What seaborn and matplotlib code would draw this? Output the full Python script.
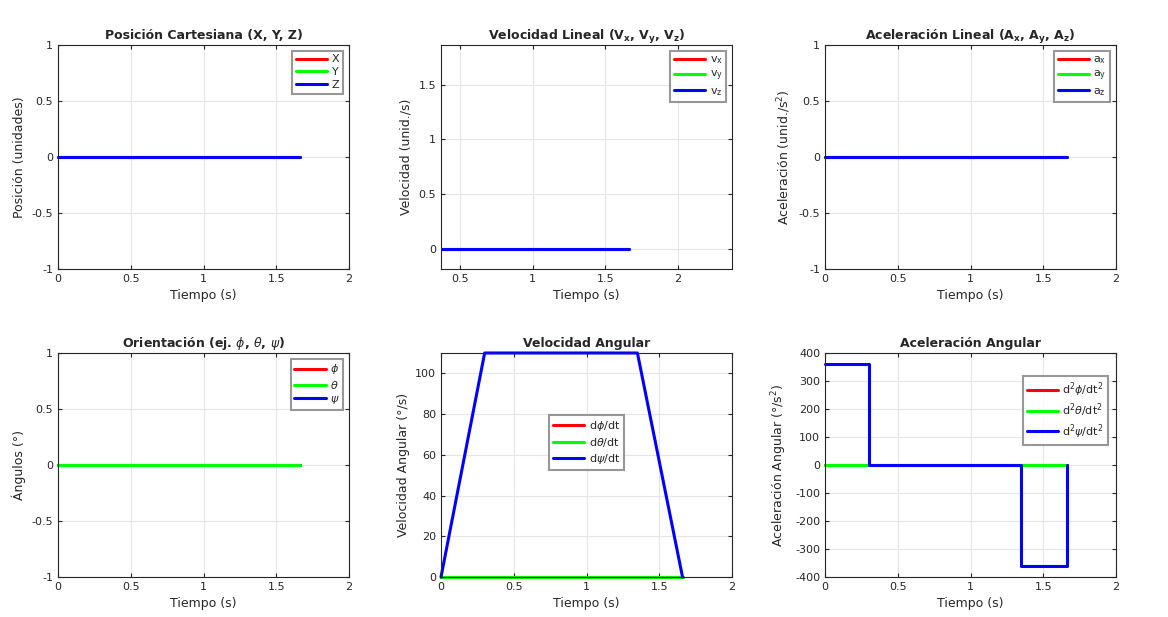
import matplotlib
matplotlib.use('Agg')
import matplotlib.pyplot as plt
from matplotlib.ticker import FormatStrFormatter
import seaborn as sns
import numpy as np

sns.set_style('whitegrid')
plt.rcParams['font.family'] = ['DejaVu Sans']
plt.rcParams['mathtext.fontset'] = 'dejavusans'

# data
t_end = 1.66
t_flat = [0, t_end]
zero = [0, 0]
t_vel = [0, 0.3, 1.35, 1.66]
w_psi = [0, 110, 110, 0]
t_acc = [0, 0.3, 0.3, 1.35, 1.35, 1.66, 1.66]
a_psi = [360, 360, 0, 0, -360, -360, 0]

red, green, blue = '#ff0000', '#00ff00', '#0000ff'

fig = plt.figure(figsize=(11.68, 6.17), dpi=100)
W, H = 1168, 617
lefts = [58, 441, 825]
tops = [45, 353]
aw, ah = 291, 224
axes = [[fig.add_axes([l / W, 1 - (t + ah) / H, aw / W, ah / H]) for l in lefts] for t in tops]

def style(ax, title, ylabel):
    ax.set_title(title, fontsize=9, fontweight='bold', pad=4)
    ax.set_ylabel(ylabel, fontsize=9)
    ax.set_xlabel('Tiempo (s)', fontsize=9)
    ax.tick_params(labelsize=8, length=3, direction='in', bottom=True, left=True, top=True, right=True)
    ax.xaxis.set_major_formatter(FormatStrFormatter('%g'))
    ax.yaxis.set_major_formatter(FormatStrFormatter('%g'))
    ax.grid(True, color='#e6e6e6', lw=0.8)
    for s in ax.spines.values():
        s.set_color('#262626')
        s.set_linewidth(0.8)
    for ln in ax.lines:
        ln.set_clip_on(False)

def legend(ax, loc, handles=None, labels=None, **kw):
    if handles is None:
        handles, labels = ax.get_legend_handles_labels()
    lg = ax.legend(handles, labels, loc=loc, fontsize=8, fancybox=False, handlelength=2.8,
                   labelspacing=0.25, borderpad=0.35, handletextpad=0.4, **kw)
    lg.get_frame().set_edgecolor('#7f7f7f')
    lg.get_frame().set_linewidth(1.5)

def three(ax, x, ys, labels):
    for y, c, lb in zip(ys, [red, green, blue], labels):
        sns.lineplot(x=x, y=y, color=c, lw=2.2, label=lb, ax=ax, estimator=None, sort=False)

# top-left
ax = axes[0][0]
three(ax, t_flat, [zero, zero, zero], ['X', 'Y', 'Z'])
ax.set_xlim(0, 2); ax.set_ylim(-1, 1)
ax.set_xticks([0, 0.5, 1, 1.5, 2]); ax.set_yticks([-1, -0.5, 0, 0.5, 1])
style(ax, 'Posición Cartesiana (X, Y, Z)', 'Posición (unidades)')
legend(ax, 'upper right')

# top-middle
ax = axes[0][1]
three(ax, t_flat, [zero, zero, zero], ['$\\mathregular{v_x}$', '$\\mathregular{v_y}$', '$\\mathregular{v_z}$'])
ax.set_xlim(0.37, 2.37); ax.set_ylim(-0.18, 1.86)
ax.set_xticks([0.5, 1, 1.5, 2]); ax.set_yticks([0, 0.5, 1, 1.5])
style(ax, 'Velocidad Lineal ($\\mathbf{V_x}$, $\\mathbf{V_y}$, $\\mathbf{V_z}$)', 'Velocidad (unid./s)')
for ln in ax.lines:
    ln.set_clip_on(True)
legend(ax, 'upper right')

# top-right
ax = axes[0][2]
three(ax, t_flat, [zero, zero, zero], ['$\\mathregular{a_x}$', '$\\mathregular{a_y}$', '$\\mathregular{a_z}$'])
ax.set_xlim(0, 2); ax.set_ylim(-1, 1)
ax.set_xticks([0, 0.5, 1, 1.5, 2]); ax.set_yticks([-1, -0.5, 0, 0.5, 1])
style(ax, 'Aceleración Lineal ($\\mathbf{A_x}$, $\\mathbf{A_y}$, $\\mathbf{A_z}$)', 'Aceleración (unid./s$^2$)')
legend(ax, 'upper right')

# bottom-left (green drawn last, on top)
ax = axes[1][0]
sns.lineplot(x=t_flat, y=zero, color=red, lw=2.2, label='$\\phi$', ax=ax)
sns.lineplot(x=t_flat, y=zero, color=blue, lw=2.2, label='$\\psi$', ax=ax)
sns.lineplot(x=t_flat, y=zero, color=green, lw=2.2, label='$\\theta$', ax=ax)
h, l = ax.get_legend_handles_labels()
ax.set_xlim(0, 2); ax.set_ylim(-1, 1)
ax.set_xticks([0, 0.5, 1, 1.5, 2]); ax.set_yticks([-1, -0.5, 0, 0.5, 1])
style(ax, 'Orientación (ej. $\\phi$, $\\theta$, $\\psi$)', 'Ángulos (°)')
legend(ax, 'upper right', [h[0], h[2], h[1]], [l[0], l[2], l[1]])

# bottom-middle
ax = axes[1][1]
three(ax, t_vel, [[0] * 4, [0] * 4, w_psi], ['d$\\phi$/dt', 'd$\\theta$/dt', 'd$\\psi$/dt'])
ax.set_xlim(0, 2); ax.set_ylim(0, 110)
ax.set_xticks([0, 0.5, 1, 1.5, 2]); ax.set_yticks([0, 20, 40, 60, 80, 100])
style(ax, 'Velocidad Angular', 'Velocidad Angular (°/s)')
legend(ax, 'center', bbox_to_anchor=(0.5, 0.6))

# bottom-right
ax = axes[1][2]
three(ax, t_acc, [[0] * 7, [0] * 7, a_psi], ['d$^2\\phi$/dt$^2$', 'd$^2\\theta$/dt$^2$', 'd$^2\\psi$/dt$^2$'])
ax.set_xlim(0, 2); ax.set_ylim(-400, 400)
ax.set_xticks([0, 0.5, 1, 1.5, 2]); ax.set_yticks(np.arange(-400, 401, 100))
style(ax, 'Aceleración Angular', 'Aceleración Angular (°/s$^2$)')
legend(ax, 'upper right', bbox_to_anchor=(0.99, 0.92))

fig.savefig('out.png', dpi=100, facecolor='white')
